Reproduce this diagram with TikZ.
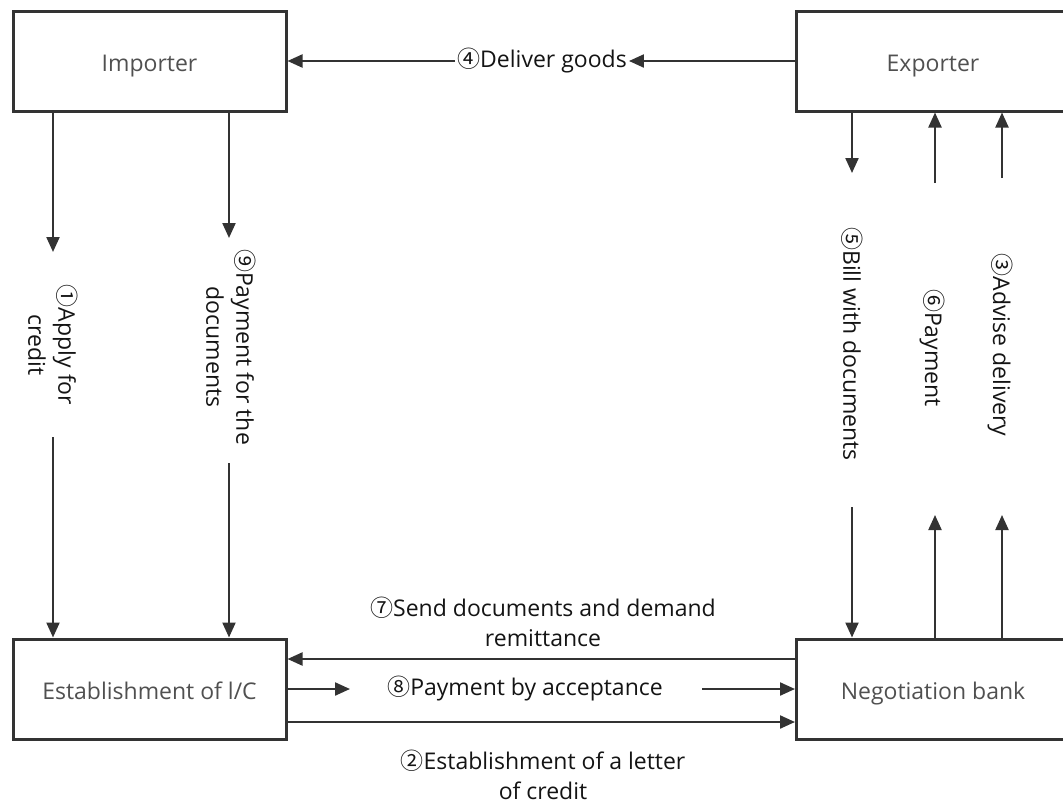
\documentclass[tikz,border=0pt]{standalone}
\usepackage{fontspec}
\setmainfont{Open Sans}
\newfontfamily\cfont{Noto Sans CJK SC}[Scale=1.0]
\usetikzlibrary{arrows.meta,calc}
\definecolor{ln}{RGB}{51,51,51}
\definecolor{bt}{RGB}{80,80,80}
\definecolor{lt}{RGB}{20,20,20}
\newcommand\cn[1]{{\cfont#1}}
\begin{document}
\begin{tikzpicture}[x=1pt,y=-1pt,
 box/.style={draw=ln,line width=3pt,minimum width=273pt,minimum height=100pt,inner sep=0pt,text=bt,
   text height=22pt,text depth=2pt,font=\fontsize{23}{27}\selectfont},
 arr/.style={draw=ln,line width=2.2pt,-{Triangle[length=15pt,width=13pt]}},
 lab/.style={text=lt,font=\fontsize{23}{30}\selectfont,align=center,inner sep=0pt},
 vlab/.style={lab,rotate=-90}]
\useasboundingbox (0,0) rectangle (1063,803);
\clip (0,0) rectangle (1063,803);
\node[box] (imp) at (149.5,61) {Importer};
\node[box] (exp) at (933,61) {Exporter};
\node[box] (est) at (149.5,689) {Establishment of l/C};
\node[box] (neg) at (933,689) {Negotiation bank};
% 4
\node[lab,inner xsep=2pt] (l4) at (542,61) {\cn{④}Deliver goods};
\draw[arr] (exp.west) -- (l4.east);
\draw[arr] (l4.west) -- (imp.east);
% 1
\coordinate (a1s) at (53,252);
\coordinate (a1e) at (53,437);
\draw[arr] (imp.south -| a1s) -- (a1s);
\node[vlab] (l1) at (53,345) {\cn{①}Apply for\\credit};
\draw[arr] (a1e) -- (est.north -| a1e);
% 9
\coordinate (a9s) at (229,238);
\coordinate (a9e) at (229,463);
\draw[arr] (imp.south -| a9s) -- (a9s);
\node[vlab] (l9) at (231,347) {\cn{⑨}Payment for the\\documents};
\draw[arr] (a9e) -- (est.north -| a9e);
% 5
\coordinate (a5s) at (852,173);
\coordinate (a5e) at (852,507);
\draw[arr] (exp.south -| a5s) -- (a5s);
\node[vlab] (l5) at (852,344) {\cn{⑤}Bill with documents};
\draw[arr] (a5e) -- (neg.north -| a5e);
% 6
\coordinate (a6s) at (935,183);
\coordinate (a6e) at (935,515);
\draw[arr] (a6s) -- (exp.south -| a6s);
\node[vlab] (l6) at (932,348) {\cn{⑥}Payment};
\draw[arr] (neg.north -| a6e) -- (a6e);
% 3
\coordinate (a3s) at (1002,178);
\coordinate (a3e) at (1002,515);
\draw[arr] (a3s) -- (exp.south -| a3s);
\node[vlab] (l3) at (1000,345) {\cn{③}Advise delivery};
\draw[arr] (neg.north -| a3e) -- (a3e);
% 7
\coordinate (y7) at (0,659);
\draw[arr] (neg.west |- y7) -- (est.east |- y7);
\node[lab] (l7) at (543,622) {\cn{⑦}Send documents and demand\\remittance};
% 8
\coordinate (a8s) at (350,689);
\coordinate (a8e) at (702,689);
\draw[arr] (est.east) -- (a8s);
\node[lab] (l8) at (525,689) {\cn{⑧}Payment by acceptance};
\draw[arr] (a8e) -- (neg.west);
% 2
\coordinate (y2) at (0,722);
\draw[arr] (est.east |- y2) -- (neg.west |- y2);
\node[lab] (l2) at (543,775) {\cn{②}Establishment of a letter\\of credit};
\end{tikzpicture}
\end{document}
